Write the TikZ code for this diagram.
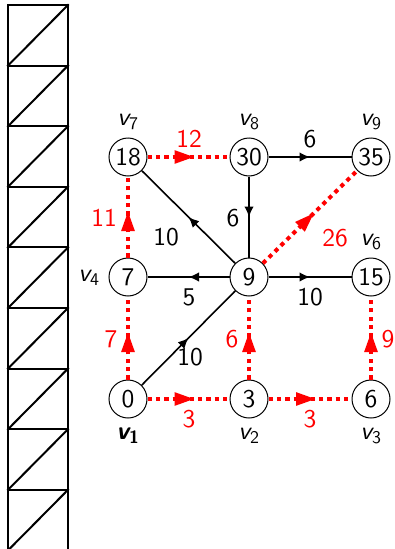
\documentclass[tikz,border=0pt]{standalone}
\usepackage{fontspec}
\setsansfont{lmsans10-regular.otf}[BoldFont=lmsans10-bold.otf,ItalicFont=lmsans10-oblique.otf,BoldItalicFont=lmsans10-boldoblique.otf,SlantedFont=lmsans10-oblique.otf,BoldSlantedFont=lmsans10-boldoblique.otf]
\usetikzlibrary{arrows.meta,decorations.markings}
\newcommand{\vl}[1]{{\itshape v}\textsubscript{#1}}
\begin{document}
\begin{tikzpicture}[x=1pt,y=-1pt,
  font=\fontsize{25.5}{30}\selectfont\sffamily,
  vert/.style={circle,draw,line width=1pt,minimum size=38pt,inner sep=0pt},
  blk/.style={draw=black,line width=1.6pt,postaction={decorate},
    decoration={markings,mark=at position 0.5 with {\arrow{Latex[length=10.5pt,width=9.5pt]}}}},
  redpath/.style={draw=red,line width=4pt,dash pattern=on 4.2pt off 4.2pt,postaction={decorate},
    decoration={markings,mark=at position 0.5 with {\arrow[red,xshift=6pt]{Triangle[length=20pt,width=12.5pt]}}}},
  wt/.style={inner sep=0pt,text=red},
  bt/.style={inner sep=0pt,text=black},
  lad/.style={line width=2pt,line cap=rect}]
\useasboundingbox (0,0) rectangle (394,549);
% ladder
\draw[lad] (8,5) -- (8,560);
\draw[lad] (68,5) -- (68,560);
\foreach \k in {0,...,8}{
  \pgfmathsetmacro{\ya}{5+60.6*\k}
  \pgfmathsetmacro{\yb}{5+60.6*(\k+1)}
  \draw[lad] (8,\ya) -- (68,\ya);
  \draw[lad] (8,\yb) -- (68,\ya);
}
% vertices
\node[vert] (v1) at (128,399) {0};
\node[vert] (v2) at (249,399) {3};
\node[vert] (v3) at (371,399) {6};
\node[vert] (v4) at (128,277) {7};
\node[vert] (v5) at (249,277) {9};
\node[vert] (v6) at (371,277) {15};
\node[vert] (v7) at (128,157) {18};
\node[vert] (v8) at (249,157) {30};
\node[vert] (v9) at (371,157) {35};
% vertex labels
\node[bt] (l1) at (128,436) {\bfseries\vl{1}};
\node[bt] (l2) at (249,436) {\vl{2}};
\node[bt] (l3) at (371,436) {\vl{3}};
\node[bt] (l4) at (89,278) {\vl{4}};
\node[bt] (l6) at (371,242) {\vl{6}};
\node[bt] (l7) at (128,122) {\vl{7}};
\node[bt] (l8) at (249,122) {\vl{8}};
\node[bt] (l9) at (371,122) {\vl{9}};
% black edges
\draw[blk] (v1) -- (v5);
\draw[blk] (v5) -- (v4);
\draw[blk] (v5) -- (v6);
\draw[blk] (v5) -- (v7);
\draw[blk] (v8) -- (v5);
\draw[blk] (v8) -- (v9);
% red edges
\draw[redpath] (v1) -- (v2);
\draw[redpath] (v2) -- (v3);
\draw[redpath] (v1) -- (v4);
\draw[redpath] (v2) -- (v5);
\draw[redpath] (v3) -- (v6);
\draw[redpath] (v4) -- (v7);
\draw[redpath] (v7) -- (v8);
\draw[redpath] (v5) -- (v9);
% weights
\node[wt] (w12) at (189,419) {3};
\node[wt] (w23) at (310,419) {3};
\node[wt] (w14) at (111,339) {7};
\node[wt] (w25) at (232,339) {6};
\node[wt] (w36) at (388,339) {9};
\node[wt] (w47) at (104,218) {11};
\node[wt] (w78) at (189,139) {12};
\node[wt] (w59) at (335,238) {26};
\node[bt] (b15) at (190,357) {10};
\node[bt] (b54) at (189,297) {5};
\node[bt] (b56) at (310,297) {10};
\node[bt] (b57) at (166,237) {10};
\node[bt] (b85) at (233,218) {6};
\node[bt] (b89) at (310,139) {6};
\end{tikzpicture}
\end{document}
